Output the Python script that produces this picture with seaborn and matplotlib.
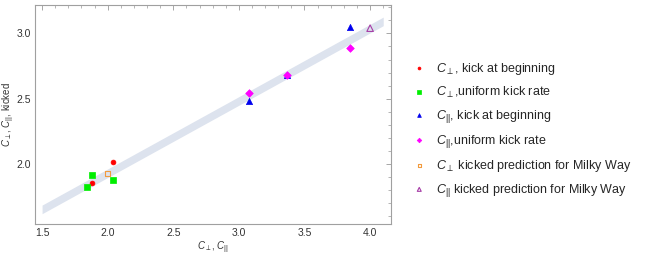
import matplotlib
matplotlib.use("Agg")
import matplotlib.pyplot as plt
import numpy as np
import pandas as pd
import seaborn as sns
from matplotlib.ticker import MultipleLocator

# values
perp_begin_x = [1.88, 2.04]
perp_begin_y = [1.857, 2.015]
perp_uniform_x = [1.84, 1.88, 2.04]
perp_uniform_y = [1.824, 1.913, 1.878]
par_begin_x = [3.08, 3.37, 3.85]
par_begin_y = [2.48, 2.68, 3.05]
par_uniform_x = [3.08, 3.37, 3.85]
par_uniform_y = [2.54, 2.68, 2.89]
mw_perp_x = [2.00]
mw_perp_y = [1.929]
mw_par_x = [4.00]
mw_par_y = [3.04]

labels = [
    r"$C_{\perp}$, kick at beginning",
    r"$C_{\perp}$,uniform kick rate",
    r"$C_{||}$, kick at beginning",
    r"$C_{||}$,uniform kick rate",
    r"$C_{\perp}$ kicked prediction for Milky Way",
    r"$C_{||}$ kicked prediction for Milky Way",
]
fit_range = (1.5, 4.1)

sns.set_style("white")
plt.rcParams["font.family"] = ["Liberation Sans", "DejaVu Sans"]
plt.rcParams["mathtext.fontset"] = "custom"
plt.rcParams["mathtext.rm"] = "Liberation Sans"
plt.rcParams["mathtext.it"] = "Liberation Sans:italic"

fig = plt.figure(figsize=(6.64, 2.57), dpi=100)
ax = fig.add_axes([0.0523, 0.1284, 0.5367, 0.852])

# linear fit through the simulated points -> the pale band
sim_x = np.array(perp_begin_x + perp_uniform_x + par_begin_x + par_uniform_x)
sim_y = np.array(perp_begin_y + perp_uniform_y + par_begin_y + par_uniform_y)
slope, icpt = np.polyfit(sim_x, sim_y, 1)
fx = np.linspace(*fit_range, 50)
fy = icpt + slope * fx
ax.fill_between(fx, fy - 0.033, fy + 0.033, color="#dde3ee", lw=0, zorder=1)

series = [
    (perp_begin_x, perp_begin_y, "o", "#ff0000", True, 12),
    (perp_uniform_x, perp_uniform_y, "s", "#00ee00", True, 14),
    (par_begin_x, par_begin_y, "^", "#0000ee", True, 20),
    (par_uniform_x, par_uniform_y, "D", "#ff00ff", True, 15),
    (mw_perp_x, mw_perp_y, "s", "#f29a3c", False, 16),
    (mw_par_x, mw_par_y, "^", "#a63ca6", False, 22),
]
for (xs, ys, m, c, filled, s), lab in zip(series, labels):
    df = pd.DataFrame({"x": xs, "y": ys})
    if filled:
        sns.scatterplot(data=df, x="x", y="y", marker=m, color=c, s=s,
                        edgecolor=c, linewidth=0.5, label=lab, ax=ax, zorder=3)
    else:
        sns.scatterplot(data=df, x="x", y="y", marker=m, color=c, s=s,
                        facecolor="none", edgecolor=c, linewidth=0.8,
                        label=lab, ax=ax, zorder=3)

ax.set_xlim(1.444, 4.16)
ax.set_ylim(1.541, 3.217)
ax.xaxis.set_major_locator(MultipleLocator(0.5))
ax.xaxis.set_minor_locator(MultipleLocator(0.1))
ax.yaxis.set_major_locator(MultipleLocator(0.5))
ax.yaxis.set_minor_locator(MultipleLocator(0.1))
ax.tick_params(which="both", direction="in", top=True, right=True,
               color="#999999", labelsize=7.5, labelcolor="#333333", pad=3)
ax.tick_params(which="major", length=3.5, width=0.6)
ax.tick_params(which="minor", length=2, width=0.5)
for sp in ax.spines.values():
    sp.set_color("#a0a0a0")
    sp.set_linewidth(0.8)

ax.set_xlabel(r"$C_{\perp}$, $C_{||}$", fontsize=7, color="#333333")
ax.set_ylabel(r"$C_{\perp}$, $C_{||}$, kicked", fontsize=7, color="#333333")
ax.xaxis.set_label_coords(0.5, -0.072)
ax.yaxis.set_label_coords(-0.05, 0.5)

handles, labs = ax.get_legend_handles_labels()
ax.legend(handles, labs, loc="upper left", bbox_to_anchor=(0.622, 0.764),
          bbox_transform=fig.transFigure, frameon=False, fontsize=9,
          markerscale=0.6, handlelength=1.0, handletextpad=0.85,
          labelspacing=0.64, borderpad=0, borderaxespad=0)

fig.savefig("out.png", dpi=100)
